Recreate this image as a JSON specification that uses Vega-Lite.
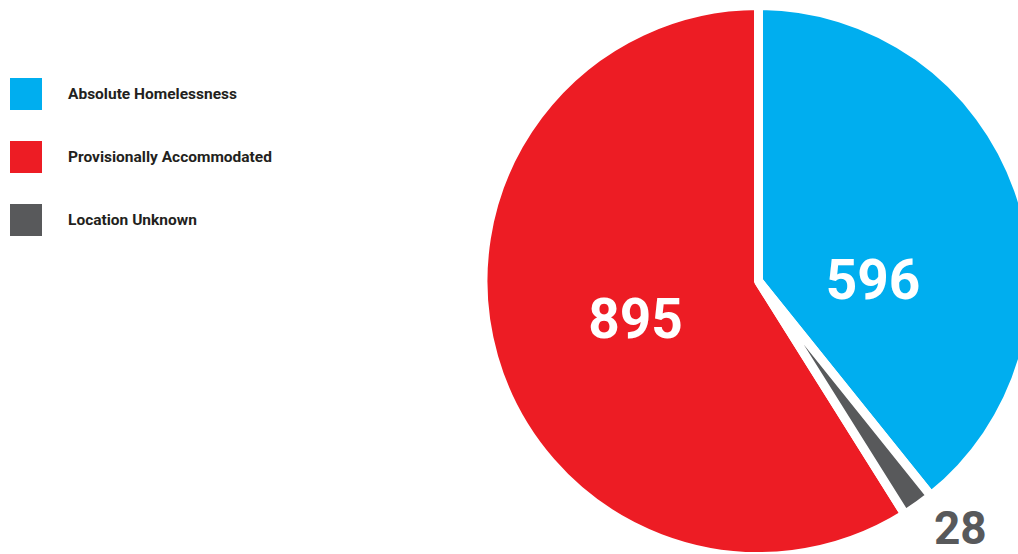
{
  "$schema": "https://vega.github.io/schema/vega-lite/v6.json",
  "width": 517,
  "height": 542,
  "padding": {"left": 500, "top": 10, "right": 1, "bottom": 2},
  "autosize": {"type": "none"},
  "background": "white",
  "config": {"view": {"stroke": null}},
  "data": {
    "values": [
      {"category": "Absolute Homelessness", "value": 596},
      {"category": "Provisionally Accommodated", "value": 895},
      {"category": "Location Unknown", "value": 28}
    ]
  },
  "encoding": {
    "theta": {"field": "value", "type": "quantitative", "stack": true},
    "order": {"field": "category", "type": "nominal", "sort": "ascending"}
  },
  "layer": [
    {
      "mark": {"type": "arc", "outerRadius": 275.5, "stroke": "white", "strokeWidth": 9},
      "encoding": {
        "color": {
          "field": "category",
          "type": "nominal",
          "scale": {
            "domain": ["Absolute Homelessness", "Provisionally Accommodated", "Location Unknown"],
            "range": ["#00aeef", "#ed1c24", "#58595b"]
          },
          "legend": {
            "title": null,
            "orient": "none",
            "legendX": -490,
            "legendY": 68,
            "padding": 0,
            "symbolType": "square",
            "symbolSize": 1024,
            "symbolStrokeWidth": 0,
            "symbolOpacity": 1,
            "labelFont": "Roboto",
            "labelFontSize": 15.5,
            "labelFontWeight": "bold",
            "labelColor": "#231f20",
            "labelOffset": 26,
            "labelLimit": 400,
            "rowPadding": 31
          }
        }
      }
    },
    {
      "mark": {"type": "text", "radius": 115, "dx": 6, "dy": 39, "font": "Roboto", "fontSize": 55, "fontWeight": "bold", "color": "white", "align": "center", "baseline": "middle"},
      "encoding": {
        "text": {"condition": {"test": "datum.category === 'Absolute Homelessness'", "field": "value", "type": "quantitative"}, "value": ""}
      }
    },
    {
      "mark": {"type": "text", "radius": 130, "dx": 2, "dy": 4, "font": "Roboto", "fontSize": 55, "fontWeight": "bold", "color": "white", "align": "center", "baseline": "middle"},
      "encoding": {
        "text": {"condition": {"test": "datum.category === 'Provisionally Accommodated'", "field": "value", "type": "quantitative"}, "value": ""}
      }
    },
    {
      "mark": {"type": "text", "radius": 305, "dx": 25, "dy": 0, "font": "Roboto", "fontSize": 46, "fontWeight": "bold", "color": "#58595b", "align": "center", "baseline": "middle"},
      "encoding": {
        "text": {"condition": {"test": "datum.category === 'Location Unknown'", "field": "value", "type": "quantitative"}, "value": ""}
      }
    }
  ]
}
